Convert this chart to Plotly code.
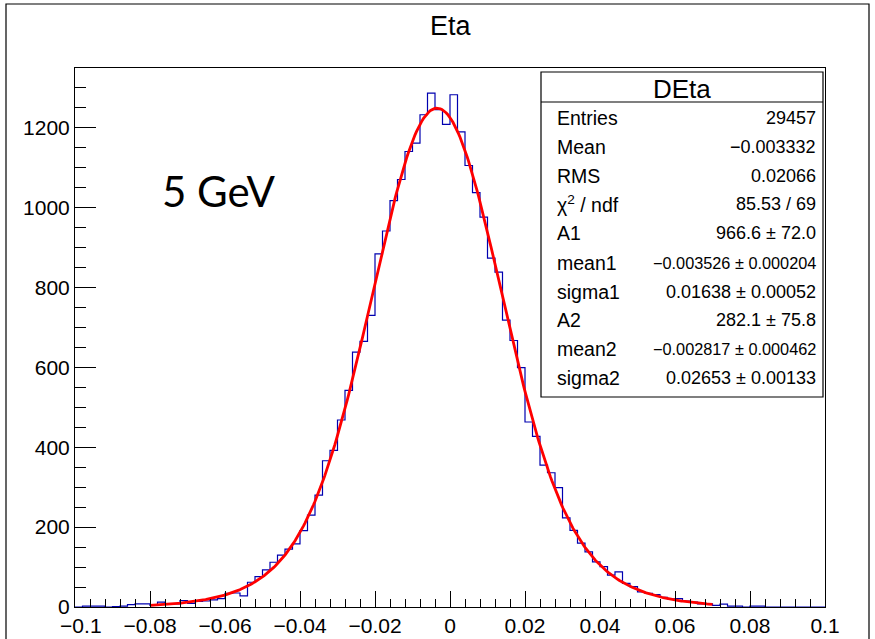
import numpy as np
import plotly.graph_objects as go

# ---------------- data ----------------
x_min, x_max, n_bins = -0.1, 0.1, 100

counts = [
    0, 2, 2, 2, 0, 1, 2, 6, 8, 8,
    4, 12, 8, 8, 16, 9, 14, 15, 18, 21,
    34, 35, 28, 62, 76, 93, 112, 130, 145, 158,
    191, 230, 280, 366, 392, 468, 542, 638, 665, 730,
    884, 941, 1017, 1070, 1140, 1161, 1232, 1286, 1245, 1208,
    1282, 1189, 1105, 1037, 976, 873, 838, 718, 667, 599,
    463, 427, 355, 336, 299, 223, 192, 160, 138, 113,
    101, 80, 88, 59, 51, 38, 34, 31, 24, 20,
    21, 15, 12, 8, 8, 4, 7, 2, 2, 0,
    2, 2, 0, 0, 0, 0, 0, 0, 0, 0,
]

# double-Gaussian fit parameters (from stats box)
fit_A = [966.6, 282.1]
fit_mean = [-0.003526, -0.002817]
fit_sigma = [0.01638, 0.02653]
fit_range = [-0.08, 0.07]

stats_title = "DEta"
stats_labels = ["Entries", "Mean", "RMS", "χ<sup>2</sup> / ndf", "A1", "mean1",
                "sigma1", "A2", "mean2", "sigma2"]
stats_values = ["29457", "−0.003332", "0.02066", "85.53 / 69", "966.6 ± 72.0",
                "−0.003526 ± 0.000204", "0.01638 ± 0.00052", "282.1 ± 75.8",
                "−0.002817 ± 0.000462", "0.02653 ± 0.00133"]

x_ticks = [-0.1, -0.08, -0.06, -0.04, -0.02, 0, 0.02, 0.04, 0.06, 0.08, 0.1]
x_ticktext = ["\u00a0\u00a0−0.1", "−0.08", "−0.06", "−0.04", "−0.02", "0", "0.02", "0.04",
              "0.06", "0.08", "0.1"]
y_ticks = [0, 200, 400, 600, 800, 1000, 1200]
y_max = 1349

# ---------------- layout helpers ----------------
W, H = 875, 639
L, R, T, B = 75, 50, 68, 32
PW, PH = W - L - R, H - T - B


def px_x(p):
    return (p - L) / PW


def px_y(p):
    return (H - B - p) / PH


FONT = "Liberation Sans, Arial, Helvetica, sans-serif"

# ---------------- traces ----------------
edges = np.linspace(x_min, x_max, n_bins + 1)
step_y = list(counts) + [counts[-1]]

fig = go.Figure()
fig.add_trace(go.Scatter(
    x=edges, y=step_y, mode="lines", line=dict(color="#0000b0", width=1.2, shape="hv"),
    hoverinfo="skip", showlegend=False))

xf = np.linspace(fit_range[0], fit_range[1], 400)
yf = np.zeros_like(xf)
for A, m, s in zip(fit_A, fit_mean, fit_sigma):
    yf += A * np.exp(-0.5 * ((xf - m) / s) ** 2)
fig.add_trace(go.Scatter(
    x=xf, y=yf, mode="lines", line=dict(color="#ff0000", width=2.8),
    hoverinfo="skip", showlegend=False))

# ---------------- axes ----------------
fig.update_xaxes(
    range=[x_min, x_max], tickmode="array", tickvals=x_ticks, ticktext=x_ticktext,
    ticks="inside", ticklen=16, tickwidth=1, tickcolor="black",
    minor=dict(ticks="inside", ticklen=8, dtick=0.004, tick0=-0.1, tickcolor="black", tickwidth=1),
    showline=True, linecolor="black", linewidth=1, mirror=True,
    showgrid=False, zeroline=False, automargin=False,
    tickfont=dict(family=FONT, size=21, color="black"))
fig.update_yaxes(
    range=[0, y_max], tickmode="array", tickvals=y_ticks,
    ticks="inside", ticklen=21, tickwidth=1, tickcolor="black",
    minor=dict(ticks="inside", ticklen=11, dtick=50, tick0=0, tickcolor="black", tickwidth=1),
    showline=True, linecolor="black", linewidth=1, mirror=True,
    showgrid=False, zeroline=False, automargin=False,
    tickfont=dict(family=FONT, size=21, color="black"))

shapes = []
# outer canvas frame
shapes.append(dict(type="rect", xref="paper", yref="paper",
                   x0=px_x(6), x1=px_x(869), y0=px_y(670), y1=px_y(4),
                   line=dict(color="black", width=1.2), fillcolor="rgba(0,0,0,0)"))
# stats box
bx0, bx1, by0, by1 = 541, 823, 72, 397
shapes.append(dict(type="rect", xref="paper", yref="paper",
                   x0=px_x(bx0), x1=px_x(bx1), y0=px_y(by1), y1=px_y(by0),
                   line=dict(color="black", width=1.2), fillcolor="white", layer="above"))
shapes.append(dict(type="line", xref="paper", yref="paper",
                   x0=px_x(bx0), x1=px_x(bx1), y0=px_y(102), y1=px_y(102),
                   line=dict(color="black", width=1.2), layer="above"))

annotations = []
annotations.append(dict(text="Eta", x=px_x(451), y=px_y(26), xref="paper", yref="paper",
                        showarrow=False, xanchor="center", yanchor="middle",
                        font=dict(family=FONT, size=27, color="black")))
annotations.append(dict(text="5 GeV", x=px_x(219), y=px_y(191), xref="paper", yref="paper",
                        showarrow=False, xanchor="center", yanchor="middle",
                        font=dict(family="Lato, Open Sans, sans-serif", size=42, color="black")))
annotations.append(dict(text=stats_title, x=px_x((bx0 + bx1) / 2), y=px_y(89), xref="paper", yref="paper",
                        showarrow=False, xanchor="center", yanchor="middle",
                        font=dict(family=FONT, size=26, color="black")))
row_y = [117.7, 147.3, 176, 204.3, 233.3, 262.7, 291.7, 320, 349.3, 378.3]
value_sizes = [18, 18, 18, 18, 18, 16.3, 18, 18, 16.3, 18]
for lab, val, ry, vs in zip(stats_labels, stats_values, row_y, value_sizes):
    annotations.append(dict(text=lab, x=px_x(555), y=px_y(ry), xref="paper", yref="paper",
                            showarrow=False, xanchor="left", yanchor="middle",
                            font=dict(family=FONT, size=19.5, color="black")))
    annotations.append(dict(text=val, x=px_x(818), y=px_y(ry), xref="paper", yref="paper",
                            showarrow=False, xanchor="right", yanchor="middle",
                            font=dict(family=FONT, size=vs, color="black")))

fig.update_layout(
    width=W, height=H, autosize=False,
    margin=dict(l=L, r=R, t=T, b=B, autoexpand=False),
    paper_bgcolor="white", plot_bgcolor="white",
    shapes=shapes, annotations=annotations, showlegend=False)

fig.write_html("out.html")
